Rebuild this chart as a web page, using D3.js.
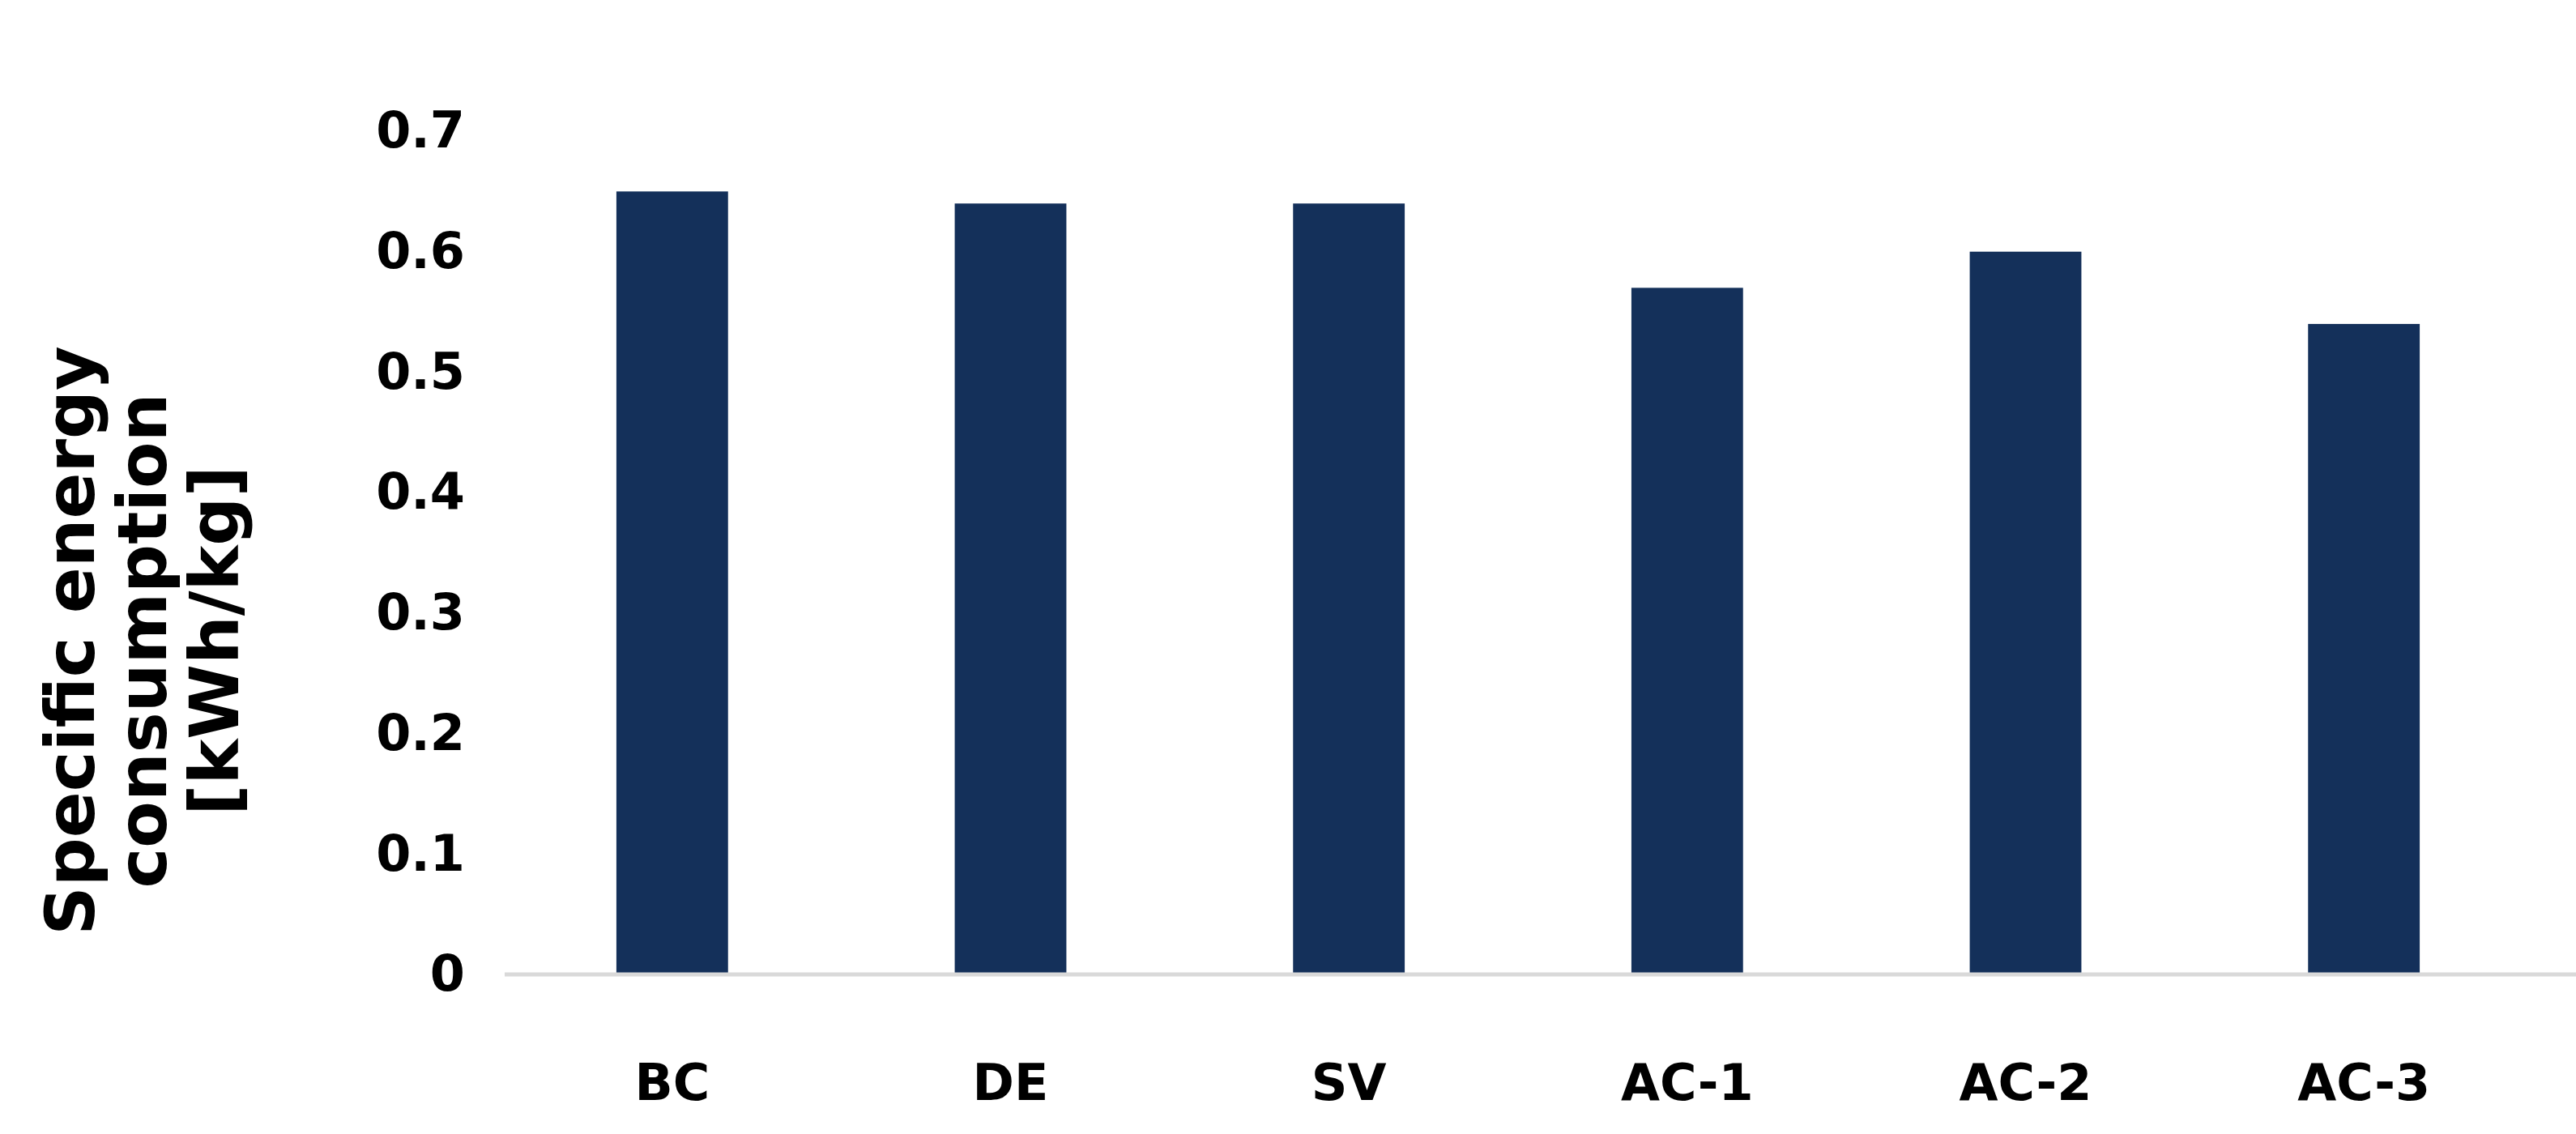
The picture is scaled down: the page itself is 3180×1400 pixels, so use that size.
<!DOCTYPE html>
<html><head><meta charset="utf-8">
<script src="https://cdn.jsdelivr.net/npm/d3@7"></script>
<style>body{margin:0;background:#fff}</style></head>
<body><script>
const categories = ["BC","DE","SV","AC-1","AC-2","AC-3"];
const values = [0.65,0.64,0.64,0.57,0.60,0.54];
const yTicks = [0,0.1,0.2,0.3,0.4,0.5,0.6,0.7];
const yTitle = ["Specific energy","consumption","[kWh/kg]"];

const W=3180,H=1400;
const svg=d3.select("body").append("svg").attr("width",W).attr("height",H);
const x=d3.scaleBand().domain(categories).range([621,3127]).paddingInner(0.67).paddingOuter(0.335);
const y=d3.scaleLinear().domain([0,0.7]).range([1203,162]);
const font="DejaVu Sans, sans-serif";

svg.selectAll("rect.bar").data(values).join("rect").attr("class","bar")
  .attr("x",(d,i)=>x(categories[i])).attr("width",x.bandwidth())
  .attr("y",d=>y(d)).attr("height",d=>y(0)-y(d)).attr("fill","#14305a");

svg.append("line").attr("x1",623).attr("x2",3180).attr("y1",y(0)).attr("y2",y(0))
  .attr("stroke","#d9d9d9").attr("stroke-width",5);

const ya=svg.append("g").attr("transform","translate(592,0)")
  .call(d3.axisLeft(y).tickValues(yTicks).tickFormat(d=>d===0?"0":d3.format(".1f")(d)).tickSize(0).tickPadding(18));
ya.select(".domain").remove();
ya.selectAll("text").attr("font-family",font).attr("font-weight","bold").attr("font-size",62).attr("fill","#000");

const xa=svg.append("g").attr("transform","translate(0,1314)")
  .call(d3.axisBottom(x).tickSize(0).tickPadding(0));
xa.select(".domain").remove();
xa.selectAll("text").attr("font-family",font).attr("font-weight","bold").attr("font-size",62).attr("fill","#000");

const t=svg.append("text").attr("transform","translate(0,791) rotate(-90)")
  .attr("text-anchor","middle").attr("font-family",font).attr("font-weight","bold").attr("font-size",84);
yTitle.forEach((s,i)=>t.append("tspan").attr("x",0).attr("y",116+i*89).text(s));
</script></body></html>
